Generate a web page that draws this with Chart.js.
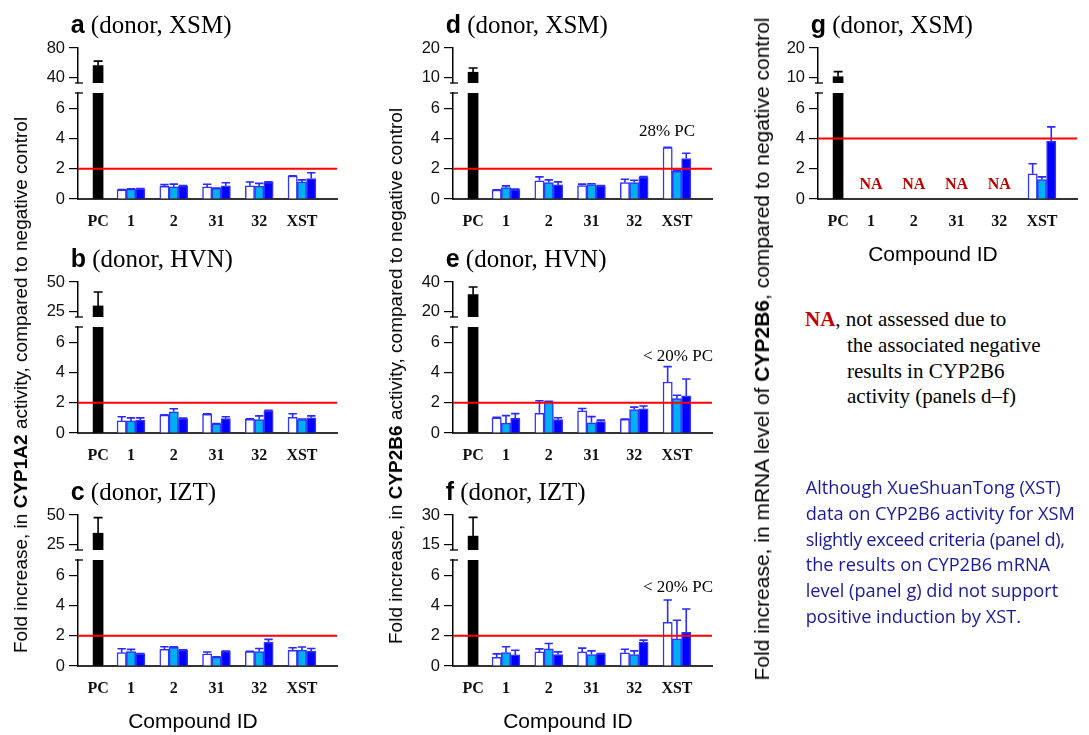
<!DOCTYPE html>
<html>
<head>
<meta charset="utf-8">
<script src="https://cdn.jsdelivr.net/npm/chart.js@4.4.1/dist/chart.umd.min.js"></script>
<style>
  body { margin: 0; background: #fff; }
  #page { position: relative; width: 1089px; height: 735px; overflow: hidden; background: #fff; }
  .abs { position: absolute; white-space: nowrap; }
  .serif { font-family: "Liberation Serif", "Times New Roman", serif; }
  .sans { font-family: "Liberation Sans", Arial, sans-serif; }
  .ytitle { position: absolute; white-space: nowrap; font-family: "Liberation Sans", Arial, sans-serif;
            color: #000; transform: translate(-50%, -50%) rotate(-90deg); }
  .na { color: #c00000; font-weight: bold; }
  .blue { font-family: "Open Sans", "Noto Sans", sans-serif; color: #1a1a9a; font-size: 18.2px; }
</style>
</head>
<body>
<div id="page"></div>
<script>
// ---- data ----
const categories = ['PC', '1', '2', '31', '32', 'XST']
const panelNames = ['a', 'b', 'c', 'd', 'e', 'f', 'g']
const donors = ['XSM', 'HVN', 'IZT', 'XSM', 'HVN', 'IZT', 'XSM']

// positive control, mean and upper error bar (panels a-g)
const pcMean = [56.5, 30, 34.8, 11.9, 31.6, 19.4, 10.4]
const pcErr = [6, 11.7, 13, 1.4, 5.1, 9.4, 1.7]

// compounds 1, 2, 31, 32, XST - open / light / dark bars
const openMean = [
  [0.6, 0.83, 0.8, 0.87, 1.52],
  [0.8, 1.18, 1.24, 0.91, 1.04],
  [0.88, 1.1, 0.81, 0.95, 1.03],
  [0.59, 1.2, 0.89, 1.09, 3.39],
  [1.01, 1.3, 1.46, 0.9, 3.37],
  [0.58, 0.93, 0.93, 0.87, 2.89],
  [null, null, null, null, 1.67]
]
const openErr = [
  [0.03, 0.12, 0.17, 0.25, 0.02],
  [0.27, 0.02, 0.02, 0.03, 0.23],
  [0.26, 0.17, 0.11, 0.02, 0.18],
  [0.02, 0.26, 0.09, 0.21, 0.03],
  [0.02, 0.83, 0.16, 0.02, 1.01],
  [0.22, 0.2, 0.25, 0.24, 1.47],
  [null, null, null, null, 0.66]
]
const lightMean = [
  [0.65, 0.8, 0.7, 0.85, 1.13],
  [0.8, 1.4, 0.6, 0.89, 0.89],
  [0.95, 1.23, 0.59, 0.95, 1.05],
  [0.76, 1.09, 0.96, 1.09, 1.83],
  [0.65, 2.07, 0.67, 1.55, 2.27],
  [0.89, 1.13, 0.76, 0.76, 1.8],
  [null, null, null, null, 1.28]
]
const lightErr = [
  [0.03, 0.18, 0.02, 0.18, 0.13],
  [0.2, 0.2, 0.02, 0.24, 0.03],
  [0.15, 0.04, 0.02, 0.21, 0.2],
  [0.11, 0.17, 0.05, 0.15, 0.08],
  [0.5, 0.02, 0.41, 0.16, 0.22],
  [0.38, 0.36, 0.24, 0.24, 1.22],
  [null, null, null, null, 0.18]
]
const darkMean = [
  [0.67, 0.85, 0.87, 1.1, 1.35],
  [0.84, 0.96, 0.96, 1.47, 1.0],
  [0.81, 1.05, 0.97, 1.56, 0.99],
  [0.63, 0.93, 0.87, 1.43, 2.67],
  [0.97, 0.88, 0.76, 1.6, 2.45],
  [0.73, 0.76, 0.8, 1.58, 2.22],
  [null, null, null, null, 3.83]
]
const darkErr = [
  [0.02, 0.03, 0.2, 0.03, 0.38],
  [0.16, 0.02, 0.11, 0.03, 0.13],
  [0.02, 0.02, 0.02, 0.2, 0.17],
  [0.02, 0.2, 0.02, 0.05, 0.35],
  [0.31, 0.13, 0.09, 0.18, 1.12],
  [0.31, 0.17, 0.02, 0.13, 1.54],
  [null, null, null, null, 0.93]
]

// axes: broken y axis, upper part and lower part
const upperTicks = [[40, 80], [25, 50], [25, 50], [10, 20], [20, 40], [15, 30], [10, 20]]
const upperMin = [33.2, 20.75, 20.75, 8.3, 16.6, 12.45, 8.3]
const lowerTicks = [0, 2, 4, 6]
const lowerMax = 7
const cutoff = [2, 2, 2, 2, 2, 2, 4]
const notes = ['', '', '', '28% PC', '< 20% PC', '< 20% PC', '']

// ---- layout ----
const colX = [78, 453, 818]
const rowY = [48, 282, 515]
const panelCol = [0, 0, 0, 1, 1, 1, 2]
const panelRow = [0, 1, 2, 0, 1, 2, 0]
const catPos = [0.23, 1, 2, 3, 4, 5]
const xMin = -0.24, xMax = 5.82
const plotW = 259, upperH = 35, gapH = 10, lowerH = 106
const notePos = [null, null, null, [667, 136], [678, 361], [678, 592], null]

const page = document.getElementById('page')

function place(html, x, baseline, cls, style, align) {
  const el = document.createElement('div')
  el.className = 'abs ' + (cls || '')
  if (style) el.style.cssText += style
  el.innerHTML = html
  el.style.left = '0px'
  el.style.top = '0px'
  const strut = document.createElement('span')
  strut.style.cssText = 'display:inline-block;width:0;height:0'
  el.appendChild(strut)
  page.appendChild(el)
  const r = el.getBoundingClientRect()
  const b = strut.getBoundingClientRect().bottom - r.top
  el.style.top = (baseline - b) + 'px'
  el.style.left = (align === 'center' ? x - r.width / 2 : x) + 'px'
  return el
}

// ---- plugins ----
const errorBars = {
  id: 'errorBars',
  afterDatasetsDraw(chart) {
    const {ctx, chartArea: a} = chart
    const y = chart.scales.y
    ctx.save()
    ctx.beginPath()
    ctx.rect(a.left, a.top - 2, a.width, a.height + 2)
    ctx.clip()
    chart.data.datasets.forEach((ds, i) => {
      if (!ds.errors) return
      chart.getDatasetMeta(i).data.forEach((bar, j) => {
        const v = ds.data[j].y, e = ds.errors[j]
        if (v == null || e == null) return
        const top = y.getPixelForValue(v + e)
        const half = bar.width * 0.45
        ctx.strokeStyle = ds.errColor
        ctx.lineWidth = 1.6
        ctx.beginPath()
        ctx.moveTo(bar.x, bar.y)
        ctx.lineTo(bar.x, top)
        ctx.moveTo(bar.x - half, top)
        ctx.lineTo(bar.x + half, top)
        ctx.stroke()
      })
    })
    ctx.restore()
  }
}

const cutoffLine = {
  id: 'cutoffLine',
  afterDatasetsDraw(chart, args, opts) {
    if (opts.value == null) return
    const {ctx, chartArea: a} = chart
    const py = chart.scales.y.getPixelForValue(opts.value)
    ctx.save()
    ctx.strokeStyle = '#ff0000'
    ctx.lineWidth = 2
    ctx.beginPath()
    ctx.moveTo(a.left, py)
    ctx.lineTo(a.right, py)
    ctx.stroke()
    ctx.restore()
  }
}

const breakMark = {
  id: 'breakMark',
  afterDraw(chart, args, opts) {
    if (!opts.edge) return
    const {ctx, chartArea: a} = chart
    const py = opts.edge === 'top' ? a.top : a.bottom
    ctx.save()
    ctx.strokeStyle = '#000'
    ctx.lineWidth = 1.3
    ctx.beginPath()
    ctx.moveTo(a.left - 3, py)
    ctx.lineTo(a.left + 5, py)
    ctx.stroke()
    ctx.restore()
  }
}

const naLabels = {
  id: 'naLabels',
  afterDatasetsDraw(chart, args, opts) {
    if (!opts.show) return
    const {ctx} = chart
    const x = chart.scales.x, y = chart.scales.y
    const ds = chart.data.datasets[1]
    ctx.save()
    ctx.fillStyle = '#c00000'
    ctx.font = 'bold 16px "Liberation Serif"'
    ctx.textAlign = 'center'
    ctx.textBaseline = 'middle'
    ds.data.forEach(d => {
      if (d.y == null) ctx.fillText('NA', x.getPixelForValue(d.x), y.getPixelForValue(0) - 14)
    })
    ctx.restore()
  }
}

// ---- scales ----
function yScale(min, max, ticks) {
  return {
    min, max,
    afterFit: s => { s.width = 50 },
    afterBuildTicks: s => { s.ticks = ticks.map(v => ({value: v})) },
    grid: {drawOnChartArea: false, tickLength: 9, color: '#000', lineWidth: 1.2},
    border: {color: '#000', width: 1.5},
    ticks: {font: {family: 'Liberation Sans', size: 16.5}, color: '#111', padding: 4}
  }
}

function xScale(show) {
  const s = {
    type: 'linear', min: xMin, max: xMax, offset: false, display: show,
    afterBuildTicks: s => { s.ticks = catPos.map(v => ({value: v})) },
    grid: {drawOnChartArea: false, drawTicks: false},
    border: {color: '#333', width: 2},
    ticks: {
      autoSkip: false, maxRotation: 0, padding: 13, color: '#111',
      font: {family: 'Liberation Serif', size: 16, weight: 'bold'},
      callback: (v, i) => categories[i]
    }
  }
  if (show) s.afterFit = sc => { sc.height = 40 }
  return s
}

function mountChart(x0, plotTop, w, h, config) {
  const box = document.createElement('div')
  box.className = 'abs'
  const cv = document.createElement('canvas')
  cv.width = w
  cv.height = h
  cv.style.width = w + 'px'
  cv.style.height = h + 'px'
  box.appendChild(cv)
  page.appendChild(box)
  const chart = new Chart(cv.getContext('2d'), config)
  box.style.left = (x0 - chart.chartArea.left) + 'px'
  box.style.top = (plotTop - chart.chartArea.top) + 'px'
  return chart
}

const common = {
  animation: false, responsive: false, devicePixelRatio: 1, events: []
}

function compoundSets(p) {
  const mk = (mean, err, fill) => ({
    data: categories.slice(1).map((c, j) => ({x: catPos[j + 1], y: mean[p][j]})),
    errors: err[p], errColor: '#2a2aff',
    backgroundColor: fill, borderColor: '#3333ff', borderWidth: 1.5,
    barThickness: 9.3, clip: 0
  })
  return [mk(openMean, openErr, '#ffffff'), mk(lightMean, lightErr, '#00b0f0'), mk(darkMean, darkErr, '#0000ff')]
}

function pcSet(p) {
  return {
    data: [{x: catPos[0], y: pcMean[p]}], errors: [pcErr[p]], errColor: '#000',
    backgroundColor: '#000', borderWidth: 0, barThickness: 10, grouped: false, clip: 0
  }
}

panelNames.forEach((name, p) => {
  const x0 = colX[panelCol[p]]
  const top = rowY[panelRow[p]]
  const ticks = upperTicks[p]

  // upper part of the broken axis
  mountChart(x0, top, 50 + plotW + 8, 18 + upperH + 18, {
    type: 'bar',
    data: {datasets: [pcSet(p)]},
    options: Object.assign({}, common, {
      layout: {padding: {top: 18, bottom: 18, left: 0, right: 8}},
      scales: {x: xScale(false), y: yScale(upperMin[p], ticks[1], ticks)},
      plugins: {legend: {display: false}, tooltip: {enabled: false}, breakMark: {edge: 'bottom'}}
    }),
    plugins: [errorBars, breakMark]
  })

  // lower part with the compounds
  mountChart(x0, top + upperH + gapH, 50 + plotW + 8, 18 + lowerH + 40, {
    type: 'bar',
    data: {datasets: [pcSet(p)].concat(compoundSets(p))},
    options: Object.assign({}, common, {
      layout: {padding: {top: 18, bottom: 0, left: 0, right: 8}},
      scales: {x: xScale(true), y: yScale(0, lowerMax, lowerTicks)},
      plugins: {
        legend: {display: false}, tooltip: {enabled: false},
        breakMark: {edge: 'top'}, cutoffLine: {value: cutoff[p]}, naLabels: {show: p === 6}
      }
    }),
    plugins: [errorBars, cutoffLine, breakMark, naLabels]
  })

  // panel title
  place('<b class="sans" style="font-size:25px">' + name + '</b><span class="serif" style="font-size:25px"> (donor, ' + donors[p] + ')</span>',
    x0 - 7.3, top - 15)

  if (notes[p]) {
    place(notes[p].replace('<', '&lt;'), notePos[p][0], notePos[p][1], 'serif', 'font-size:17px', 'center')
  }
})

// x axis titles
place('Compound ID', colX[0] + 115, rowY[2] + upperH + gapH + lowerH + 62, 'sans', 'font-size:21px', 'center')
place('Compound ID', colX[1] + 115, rowY[2] + upperH + gapH + lowerH + 62, 'sans', 'font-size:21px', 'center')
place('Compound ID', colX[2] + 115, rowY[0] + upperH + gapH + lowerH + 62, 'sans', 'font-size:21px', 'center')

// y axis titles
function yTitle(html, cx, cy, size) {
  const el = document.createElement('div')
  el.className = 'ytitle'
  el.style.left = cx + 'px'
  el.style.top = cy + 'px'
  el.style.fontSize = size + 'px'
  el.innerHTML = html
  page.appendChild(el)
}
yTitle('Fold increase, in <b>CYP1A2</b> activity, compared to negative control', 21, 385, 19)
yTitle('Fold increase, in <b>CYP2B6</b> activity, compared to negative control', 396, 376, 19)
yTitle('Fold increase, in mRNA level of <b>CYP2B6</b>, compared to negative control', 762, 349, 21)

// NA legend
place('<span class="na">NA</span>, not assessed due to', 805, 326, 'serif', 'font-size:21px')
place('the associated negative', 847, 352, 'serif', 'font-size:21px')
place('results in CYP2B6', 847, 378, 'serif', 'font-size:21px')
place('activity (panels d\u2013f)', 847, 403, 'serif', 'font-size:21px')

// comment in blue
const blueLines = [
  'Although XueShuanTong (XST)',
  'data on CYP2B6 activity for XSM',
  'slightly exceed criteria (panel d),',
  'the results on CYP2B6 mRNA',
  'level (panel g) did not support',
  'positive induction by XST.'
]
blueLines.forEach((t, i) => place(t, 805.7, 494 + i * 25.8, 'blue', i === 2 ? 'letter-spacing:-0.35px' : ''))
</script>
</body>
</html>
